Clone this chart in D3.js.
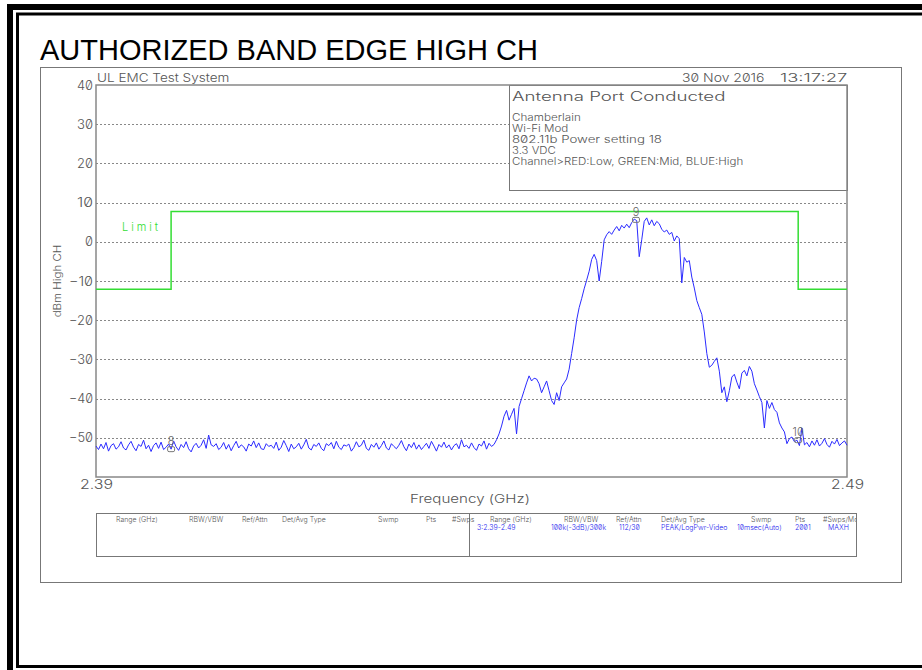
<!DOCTYPE html>
<html><head><meta charset="utf-8">
<script src="https://cdn.jsdelivr.net/npm/d3@7"></script>
<style>
body{margin:0;background:#fff}
svg text{font-family:Inter,"DejaVu Sans",sans-serif;font-feature-settings:"zero" 1;font-weight:300}
</style></head><body>
<script>
// sweep settings
const freqStart = 2.39, freqStop = 2.49;
// trace values (dBm), 301 evenly spaced points
const traceDbm = [
  -52.1,-53.0,-51.6,-52.8,-51.2,-53.4,-52.0,-51.5,-52.9,-52.3,
  -51.0,-52.6,-53.1,-51.8,-50.9,-52.4,-53.3,-51.7,-52.2,-50.6,
  -52.8,-51.9,-53.5,-52.0,-51.3,-52.7,-51.1,-53.0,-52.4,-51.6,
  -52.9,-50.8,-52.3,-53.2,-51.7,-52.5,-51.0,-52.8,-53.6,-52.1,
  -51.4,-52.6,-51.9,-50.5,-52.7,-49.3,-51.8,-52.2,-51.5,-53.0,
  -52.4,-51.2,-52.9,-51.7,-53.3,-52.0,-50.9,-52.6,-51.8,-52.3,
  -53.4,-51.6,-52.1,-50.8,-52.5,-51.3,-52.8,-53.0,-51.5,-52.2,
  -51.9,-52.7,-51.1,-53.2,-52.4,-50.7,-52.0,-53.5,-51.6,-52.8,
  -52.3,-51.4,-52.9,-51.8,-50.4,-52.6,-53.1,-51.7,-52.2,-51.3,
  -52.7,-53.3,-51.5,-52.0,-51.2,-52.8,-50.9,-52.4,-53.0,-51.8,
  -52.1,-51.6,-53.4,-52.5,-51.0,-52.3,-51.9,-50.6,-52.7,-53.2,
  -51.7,-52.4,-51.3,-52.9,-52.0,-50.8,-52.6,-53.1,-51.5,-52.2,
  -52.8,-51.9,-50.7,-52.3,-53.3,-51.6,-52.5,-51.2,-52.9,-51.8,
  -53.0,-52.2,-51.4,-52.7,-50.9,-52.1,-53.4,-51.7,-52.4,-51.1,
  -52.6,-51.8,-53.1,-52.0,-51.5,-52.8,-50.5,-52.3,-51.9,-52.7,
  -51.3,-52.5,-53.2,-51.6,-52.1,-50.8,-52.9,-51.4,-52.2,-51.7,
  -50.5,-49.0,-47.0,-44.5,-43.0,-45.5,-44.0,-42.5,-49.0,-42.0,
  -40.0,-38.0,-36.0,-34.2,-35.5,-34.8,-35.0,-36.2,-38.5,-37.0,
  -35.5,-38.0,-40.5,-41.5,-38.5,-40.5,-37.0,-36.0,-35.0,-32.5,
  -28.5,-24.5,-20.0,-16.8,-14.5,-12.0,-9.8,-7.5,-4.5,-3.2,
  -4.8,-10.0,-5.0,0.5,1.8,2.6,1.9,3.0,3.9,2.8,
  4.2,3.5,4.5,3.6,4.9,5.8,5.4,-3.8,0.5,5.2,
  6.1,4.3,5.6,4.1,5.2,4.6,3.2,2.5,3.0,1.9,
  2.4,0.2,1.5,0.8,-10.5,-4.0,-5.2,-4.8,-9.0,-11.8,
  -15.0,-16.8,-18.5,-23.0,-28.5,-32.0,-31.5,-30.5,-29.6,-33.0,
  -38.5,-37.0,-40.8,-38.0,-34.5,-33.8,-35.8,-37.5,-33.5,-32.8,
  -34.2,-31.8,-33.0,-36.2,-37.8,-39.5,-41.0,-47.5,-40.5,-42.5,
  -41.0,-42.8,-43.5,-46.2,-47.5,-48.5,-51.5,-50.2,-49.8,-51.0,
  -50.6,-52.0,-47.5,-51.8,-51.2,-52.3,-50.8,-51.9,-50.5,-52.1,
  -51.4,-50.2,-51.7,-52.4,-50.9,-51.6,-50.4,-52.0,-51.3,-50.8,
  -51.9
];
const yTicks = [40, 30, 20, 10, 0, -10, -20, -30, -40, -50];
const xTicks = [2.39, 2.49];
const limitFreq = [2.39, 2.4, 2.4, 2.4835, 2.4835, 2.49];
const limitDbm = [-12.1, -12.1, 7.7, 7.7, -12.1, -12.1];
const markerIds = ['8', '9', '10'];
const markerFreq = [2.4, 2.4619, 2.4835];
const markerDbm = [-52.9, 5.6, -50.6];
const infoLines = ['Chamberlain', 'Wi-Fi Mod', '802.11b Power setting 18', '3.3 VDC', 'Channel>RED:Low, GREEN:Mid, BLUE:High'];
const tableHeads = ['Range (GHz)', 'RBW/VBW', 'Ref/Attn', 'Det/Avg Type', 'Swmp', 'Pts', '#Swps/Mode'];
const tableValues = ['3:2.39-2.49', '100k(-3dB)/300k', '112/30', 'PEAK/LogPwr-Video', '10msec(Auto)', '2001', 'MAXH'];

const W = 922, H = 670;
const gray = '#777', txt = '#555';
const svg = d3.select('body').append('svg').attr('width', W).attr('height', H);

// the plotter font is monospaced and wide: stretch each text to n chars * cw
function hp(sel, cw) {
  sel.attr('textLength', d => (typeof d === 'string' ? d.length : 1) * cw).attr('lengthAdjust', 'spacingAndGlyphs');
  return sel;
}

// page border
svg.append('path').attr('d', 'M922,7H10V670').attr('fill', 'none').attr('stroke', '#000').attr('stroke-width', 6);
svg.append('path').attr('d', 'M922,14H17.5V666.5H922').attr('fill', 'none').attr('stroke', '#000').attr('stroke-width', 3);

svg.append('text').attr('x', 40).attr('y', 60)
  .style('font-family', '"Liberation Sans", Arial, sans-serif').style('font-weight', 400)
  .attr('font-size', 29).attr('fill', '#000')
  .text('AUTHORIZED BAND EDGE HIGH CH');

svg.append('rect').attr('x', 40.5).attr('y', 67.5).attr('width', 861).attr('height', 515)
  .attr('fill', 'none').attr('stroke', gray);

const x = d3.scaleLinear().domain([freqStart, freqStop]).range([96, 847]);
const y = d3.scaleLinear().domain([-60, 40]).range([477, 85]);

// grid
svg.append('g').selectAll('line').data(yTicks.slice(1)).join('line')
  .attr('x1', 96).attr('x2', 847).attr('y1', d => Math.round(y(d)) + 0.5).attr('y2', d => Math.round(y(d)) + 0.5)
  .attr('stroke', '#888').attr('stroke-dasharray', '2,2');

const yAxis = svg.append('g').attr('transform', 'translate(96,0)')
  .call(d3.axisLeft(y).tickValues(yTicks).tickSize(0).tickPadding(3).tickFormat(d3.format('d')));
yAxis.select('.domain').remove();
yAxis.selectAll('text').attr('font-size', 12.5).attr('fill', txt).style('font-family', null)
  .attr('textLength', d => String(d).length * 8).attr('lengthAdjust', 'spacingAndGlyphs');

const xAxis = svg.append('g').attr('transform', 'translate(0,477)')
  .call(d3.axisBottom(x).tickValues(xTicks).tickSize(0).tickPadding(3).tickFormat(d3.format('.2f')));
xAxis.select('.domain').remove();
xAxis.selectAll('text').attr('font-size', 13).attr('fill', txt).style('font-family', null)
  .attr('textLength', 33).attr('lengthAdjust', 'spacingAndGlyphs');

// info box
svg.append('rect').attr('x', 509.5).attr('y', 85.5).attr('width', 338).attr('height', 105)
  .attr('fill', '#fff').attr('stroke', gray);
hp(svg.append('text').datum('Antenna Port Conducted').attr('x', 512).attr('y', 101).attr('font-size', 12.5)
  .attr('fill', txt).text(d => d), 9.7);
hp(svg.append('g').selectAll('text').data(infoLines).join('text')
  .attr('x', 512).attr('y', (d, i) => 121 + i * 11).attr('font-size', 10).attr('fill', txt)
  .text(d => d), 6.25);

// plot frame
svg.append('rect').attr('x', 96).attr('y', 85).attr('width', 751).attr('height', 392)
  .attr('fill', 'none').attr('stroke', '#888').attr('stroke-width', 1.5);

// limit line
const limitLine = d3.line().x((d, i) => x(limitFreq[i])).y(d => y(d));
svg.append('path').attr('d', limitLine(limitDbm)).attr('fill', 'none')
  .attr('stroke', '#33dd33').attr('stroke-width', 1.5);
svg.append('text').attr('x', 122).attr('y', 231).attr('font-size', 11).attr('fill', '#33dd33')
  .attr('textLength', 36).text('Limit');

// trace
const step = (freqStop - freqStart) / (traceDbm.length - 1);
const traceLine = d3.line().x((d, i) => x(freqStart + i * step)).y(d => y(d));
svg.append('path').attr('d', traceLine(traceDbm)).attr('fill', 'none')
  .attr('stroke', '#2b2bff').attr('stroke-width', 1).attr('stroke-linejoin', 'round');

// markers
const mk = svg.append('g').selectAll('g').data(markerIds).join('g')
  .attr('transform', (d, i) => `translate(${x(markerFreq[i])},${y(markerDbm[i])})`);
mk.append('rect').attr('x', -3.5).attr('y', -2.5).attr('width', 7).attr('height', 5).attr('rx', 1.5)
  .attr('fill', 'none').attr('stroke', '#777');
mk.append('text').attr('y', -4).attr('text-anchor', 'middle').attr('font-size', 11).attr('fill', '#666')
  .text(d => d);

// header labels
hp(svg.append('text').datum('UL EMC Test System').attr('x', 97).attr('y', 82).attr('font-size', 11)
  .attr('fill', txt).text(d => d), 7.35);
hp(svg.append('text').datum('30 Nov 2016').attr('x', 682).attr('y', 82).attr('font-size', 11)
  .attr('fill', txt).text(d => d), 7.5);
hp(svg.append('text').datum('13:17:27').attr('x', 780).attr('y', 82).attr('font-size', 11)
  .attr('fill', txt).text(d => d), 8.4);
hp(svg.append('text').datum('dBm High CH').attr('transform', 'translate(61,281) rotate(-90)')
  .attr('text-anchor', 'middle').attr('font-size', 10).attr('fill', txt).text(d => d), 6.6);
hp(svg.append('text').datum('Frequency (GHz)').attr('x', 410).attr('y', 503).attr('font-size', 12)
  .attr('fill', txt).text(d => d), 8);

// settings table
svg.append('rect').attr('x', 96.5).attr('y', 513.5).attr('width', 760).attr('height', 43)
  .attr('fill', 'none').attr('stroke', gray);
svg.append('line').attr('x1', 469.5).attr('x2', 469.5).attr('y1', 513.5).attr('y2', 556.5).attr('stroke', gray);
const defs = svg.append('defs');
defs.append('clipPath').attr('id', 'tr').append('rect').attr('x', 470).attr('y', 513).attr('width', 386).attr('height', 44);
const leftCols = [116, 189, 242, 282, 378, 426, 452];
const rightCols = [490, 564, 616, 661, 751, 795, 823];
const valueCols = [477, 551, 619, 661, 737, 795, 828];
svg.append('g').selectAll('text').data(tableHeads).join('text')
  .attr('x', (d, i) => leftCols[i]).attr('y', 522).attr('font-size', 7).attr('fill', txt)
  .text(d => d.startsWith('#') ? '#Swps' : d);
svg.append('g').attr('clip-path', 'url(#tr)').selectAll('text').data(tableHeads).join('text')
  .attr('x', (d, i) => rightCols[i]).attr('y', 522).attr('font-size', 7).attr('fill', txt).text(d => d);
svg.append('g').attr('clip-path', 'url(#tr)').selectAll('text').data(tableValues).join('text')
  .attr('x', (d, i) => valueCols[i]).attr('y', 530).attr('font-size', 7).attr('fill', '#2222ee').text(d => d);
</script></body></html>
